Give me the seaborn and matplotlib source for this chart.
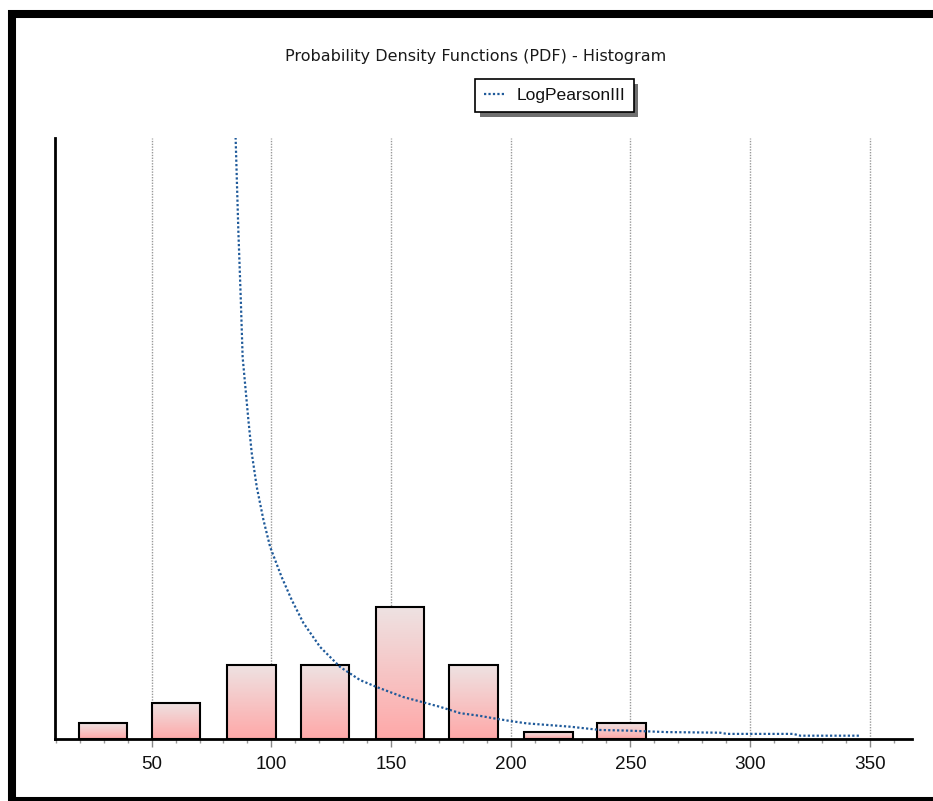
import numpy as np
import matplotlib
matplotlib.use("Agg")
import matplotlib.pyplot as plt
import matplotlib.patheffects as pe
from matplotlib.colors import LinearSegmentedColormap
from matplotlib.patches import Rectangle
from matplotlib.ticker import MultipleLocator
import seaborn as sns

# Histogram classes (midpoints) and their densities
bin_centers = [29.7, 60.2, 91.8, 122.5, 153.8, 184.5, 215.8, 246.4]
bin_density = [0.00052, 0.00119, 0.00245, 0.00245, 0.00438, 0.00245, 0.00023, 0.00052]

# Fitted Log-Pearson III probability density
pdf_x = [84.6, 85.1, 86.2, 87.2, 88.0, 90.4, 91.8, 93.9, 96.7, 99.5, 104.3,
         108.5, 113.4, 120.4, 128.7, 137.1, 144.0, 155.0, 170.5, 178.9, 187.2,
         192.8, 199.7, 206.7, 224.8, 237.4, 248.5, 265.2, 287.5, 290.3, 318.1,
         321.0, 346.0]
pdf_y = [0.0215, 0.01993, 0.01694, 0.01471, 0.01271, 0.01062, 0.00952, 0.00839,
         0.00729, 0.00639, 0.00539, 0.00463, 0.00386, 0.00306, 0.00240, 0.00196,
         0.00173, 0.00140, 0.00107, 0.00086, 0.00077, 0.00069, 0.00060, 0.00052,
         0.00041, 0.00030, 0.00028, 0.00023, 0.00021, 0.00017, 0.00017, 0.00011,
         0.00011]

x_ticks = [50, 100, 150, 200, 250, 300, 350]
x_tick_labels = ["50", "100", "150", "200", "250", "300", "350"]
title_text = "Probability Density Functions (PDF) - Histogram"
series_name = "LogPearsonIII"

sns.set_style("white")
plt.rcParams["font.family"] = ["Liberation Sans", "DejaVu Sans"]

W, H = 933, 801
fig = plt.figure(figsize=(W / 100, H / 100), dpi=100)
ax = fig.add_axes([55 / W, 1 - 739 / H, (912 - 55) / W, (739 - 138) / H])

# bars
sns.barplot(x=bin_centers, y=bin_density, native_scale=True, width=0.665,
            errorbar=None, ax=ax, color="#ffaaaa", zorder=2)

# per-bar vertical gradient fill
grad_cmap = LinearSegmentedColormap.from_list("barfill", ["#ffa8a8", "#eee2e2"])
grad = np.linspace(0, 1, 256).reshape(-1, 1)
for p in list(ax.patches):
    x0, y0 = p.get_x(), p.get_y()
    w, h = p.get_width(), p.get_height()
    im = ax.imshow(grad, extent=[x0, x0 + w, y0, y0 + h], origin="lower",
                   aspect="auto", cmap=grad_cmap, zorder=1.8, interpolation="bilinear")
    im.set_clip_path(p)
    p.set_facecolor("none")
    p.set_edgecolor("black")
    p.set_linewidth(1.5)

# density curve
sns.lineplot(x=pdf_x, y=pdf_y, sort=False, ax=ax, color="#1f5a9a",
             linestyle=(0, (1, 1)), linewidth=1.6, label=series_name, zorder=3)

ax.set_xlim(9.6, 367.7)
ax.set_ylim(0, 0.02)
ax.set_xticks(x_ticks)
ax.set_xticklabels(x_tick_labels)
ax.xaxis.set_minor_locator(MultipleLocator(10))
ax.set_yticks([])
ax.set_xlabel("")
ax.set_ylabel("")

ax.xaxis.grid(True, which="major", linestyle=(0, (1, 1)), color="#999999", linewidth=1)
ax.set_axisbelow(True)

ax.tick_params(axis="x", which="major", bottom=True, length=6, width=1,
               color="#888888", labelsize=13.6, pad=6.5, direction="out",
               labelcolor="#111111")
ax.tick_params(axis="x", which="minor", bottom=True, length=3, width=1,
               color="#999999", direction="out")

for side in ("top", "right"):
    ax.spines[side].set_visible(False)
for side in ("left", "bottom"):
    ax.spines[side].set_visible(True)
    ax.spines[side].set_color("black")
    ax.spines[side].set_linewidth(2)

# legend with drop shadow
leg = ax.legend(loc="upper left", bbox_to_anchor=(475 / W, 1 - 79 / H),
                bbox_transform=fig.transFigure, frameon=True, fancybox=False,
                framealpha=1, edgecolor="black", borderpad=0.5,
                handlelength=1.25, handletextpad=0.6, borderaxespad=0,
                prop={"family": "Liberation Sans", "size": 12.6})
for t in leg.get_texts():
    t.set_color("#111111")
frame = leg.get_frame()
frame.set_linewidth(1.2)
frame.set_path_effects([pe.SimplePatchShadow(offset=(3.5, -3.5), shadow_rgbFace="#6f6f6f", alpha=1),
                        pe.Normal()])

fig.text(476 / W, 1 - 56 / H, title_text, ha="center", va="center",
         family="DejaVu Sans", fontsize=11.5, color="#1a1a1a")

# outer frame
fig.add_artist(Rectangle((11.5 / W, 0.0), 1.02, 1 - 13.7 / H, transform=fig.transFigure,
                         fill=False, edgecolor="black", linewidth=5.8, clip_on=False))

fig.savefig("out.png", dpi=100)
